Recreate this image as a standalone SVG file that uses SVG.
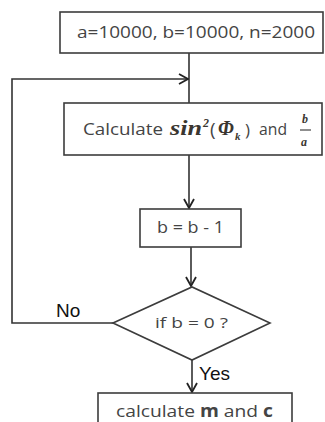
<svg xmlns="http://www.w3.org/2000/svg" width="325" height="422" viewBox="0 0 325 422">
<style>
.box{fill:#fff;stroke:#3c3c3c;stroke-width:1.6}
.ln{fill:none;stroke:#333;stroke-width:1.6}
.t{font-family:"Open Sans","Liberation Sans",sans-serif;fill:#444}
.m{font-family:"Liberation Serif",serif;font-weight:bold;font-style:italic;fill:#3a3630}
.lab{font-family:"Liberation Sans",sans-serif;fill:#111}
</style>
<defs>
<marker id="ah" viewBox="0 0 12 12" refX="11" refY="6" markerWidth="12" markerHeight="12" markerUnits="userSpaceOnUse" orient="auto">
<path d="M2,1 L11,6 L2,11" fill="none" stroke="#222" stroke-width="1.8"/>
</marker>
</defs>
<rect width="325" height="422" fill="#fff"/>
<g id="connectors">
<line class="ln" x1="189" y1="53" x2="189" y2="103"/>
<polyline class="ln" points="113,323 12,323 12,79 188,79" marker-end="url(#ah)"/>
<line class="ln" x1="189" y1="155" x2="189" y2="208" marker-end="url(#ah)"/>
<line class="ln" x1="191" y1="247" x2="191" y2="286" marker-end="url(#ah)"/>
<line class="ln" x1="192" y1="360" x2="192" y2="392" marker-end="url(#ah)"/>
<text class="lab" x="56" y="317" font-size="19">No</text>
<text class="lab" x="199" y="380" font-size="19">Yes</text>
</g>
<g id="init">
<rect class="box" x="60" y="12" width="263" height="41"/>
<text class="t" x="77" y="38" font-size="17" textLength="238" lengthAdjust="spacingAndGlyphs">a=10000, b=10000, n=2000</text>
</g>
<g id="calc">
<rect class="box" x="64" y="103" width="258" height="52"/>
<text class="t" x="83" y="135" font-size="17" textLength="80" lengthAdjust="spacingAndGlyphs">Calculate</text>
<text class="m" x="170" y="135" font-size="20" textLength="32" lengthAdjust="spacingAndGlyphs">sin</text>
<text class="m" x="203" y="127" font-size="12" font-style="normal">2</text>
<text class="t" x="210" y="136" font-size="19" fill="#3a3630">(</text>
<text class="m" x="218" y="135" font-size="20">Φ</text>
<text class="m" x="235" y="140" font-size="11">k</text>
<text class="t" x="245" y="136" font-size="17">)</text>
<text class="t" x="259" y="135" font-size="17" textLength="28" lengthAdjust="spacingAndGlyphs">and</text>
<text class="m" x="302" y="123" font-size="12">b</text>
<line x1="300" y1="130" x2="311" y2="130" stroke="#333" stroke-width="1.1"/>
<text class="m" x="301" y="146" font-size="12">a</text>
</g>
<g id="decrement">
<rect class="box" x="140" y="209" width="101" height="38"/>
<text class="t" x="157" y="233" font-size="17" textLength="67" lengthAdjust="spacingAndGlyphs">b = b - 1</text>
</g>
<g id="decision">
<polygon class="box" points="113,323 192,287 270,323 192,360"/>
<text class="t" x="155" y="328" font-size="15" textLength="73" lengthAdjust="spacingAndGlyphs" fill="#555">if b = 0 ?</text>
</g>
<g id="result">
<rect class="box" x="98" y="393" width="194" height="40"/>
<text class="t" x="116" y="417" font-size="17" textLength="157" lengthAdjust="spacingAndGlyphs">calculate <tspan font-weight="bold"> m</tspan> and <tspan font-weight="bold">c</tspan></text>
</g>
</svg>
